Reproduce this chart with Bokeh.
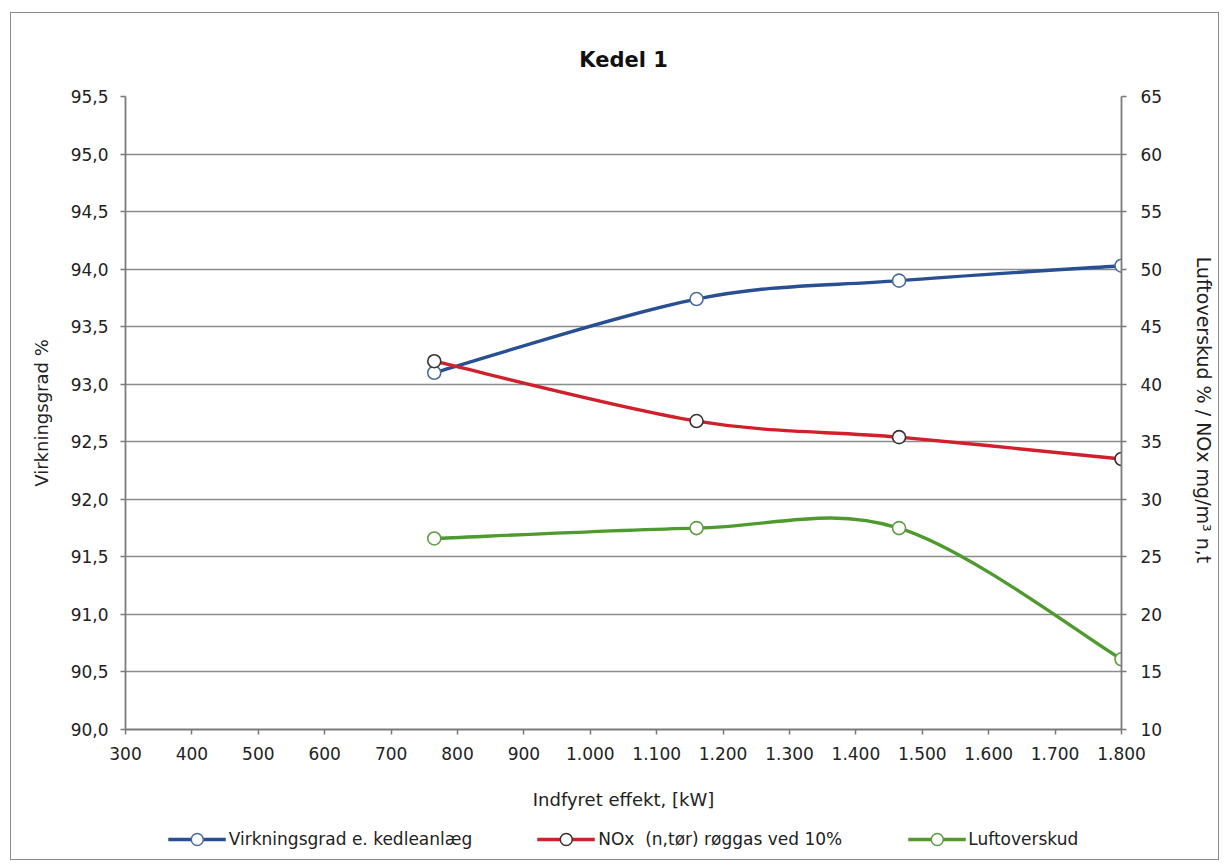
from bokeh.plotting import figure
from bokeh.models import (Range1d, LinearAxis, FixedTicker, Legend, LegendItem,
                          ColumnDataSource)
from bokeh.layouts import column
from bokeh.embed import file_html
from bokeh.resources import INLINE

# ---- data ----
x_kw = [765, 1160, 1465, 1800]
virkningsgrad = [93.10, 93.74, 93.90, 94.03]      # left axis, %
nox = [42.0, 36.8, 35.4, 33.5]                    # right axis, mg/m3 n,t
luftoverskud = [26.6, 27.5, 27.5, 16.1]           # right axis, %

x_ticks = [300, 400, 500, 600, 700, 800, 900, 1000, 1100, 1200, 1300, 1400, 1500, 1600, 1700, 1800]
x_tick_labels = ["300", "400", "500", "600", "700", "800", "900", "1.000", "1.100", "1.200",
                 "1.300", "1.400", "1.500", "1.600", "1.700", "1.800"]
left_ticks = [90.0, 90.5, 91.0, 91.5, 92.0, 92.5, 93.0, 93.5, 94.0, 94.5, 95.0, 95.5]
left_tick_labels = ["90,0", "90,5", "91,0", "91,5", "92,0", "92,5", "93,0", "93,5",
                    "94,0", "94,5", "95,0", "95,5"]
right_ticks = [10, 15, 20, 25, 30, 35, 40, 45, 50, 55, 60, 65]

series_names = ["Virkningsgrad e. kedleanlæg", "NOx  (n,tør) røggas ved 10%", "Luftoverskud"]
line_colors = ["#284f91", "#d0202c", "#4f9a2e"]
marker_lines = ["#4a6e9c", "#3a3030", "#5c9e40"]

FONT = "DejaVu Sans"
GRID = "#8c8c8c"
AX = "#7a7a7a"

p = figure(frame_width=996, frame_height=633,
           min_border_left=114, min_border_right=97, min_border_top=83, min_border_bottom=0,
           x_range=Range1d(300, 1800), y_range=Range1d(90.0, 95.5),
           output_backend="svg", toolbar_location=None, title="Kedel 1")
p.extra_y_ranges = {"right": Range1d(10, 65)}
p.outline_line_color = None
p.background_fill_color = "white"
p.border_fill_color = "white"

p.title.align = "center"
p.title.text_font = FONT
p.title.text_font_size = "21px"
p.title.text_font_style = "bold"
p.title.text_color = "#111111"
p.title.standoff = 50
p.title.offset = 0

# grid
p.xgrid.visible = False
p.ygrid.ticker = FixedTicker(ticks=left_ticks)
p.ygrid.grid_line_color = GRID
p.ygrid.grid_line_width = 1.6

# x axis
xa = p.xaxis[0]
xa.ticker = FixedTicker(ticks=x_ticks)
xa.major_label_overrides = {t: l for t, l in zip(x_ticks, x_tick_labels)}
xa.axis_label = "Indfyret effekt, [kW]"

# left axis
ya = p.yaxis[0]
ya.ticker = FixedTicker(ticks=left_ticks)
ya.major_label_overrides = {t: l for t, l in zip(left_ticks, left_tick_labels)}
ya.axis_label = "Virkningsgrad %"

# right axis
ra = LinearAxis(y_range_name="right", ticker=FixedTicker(ticks=right_ticks),
                axis_label="Luftoverskud % / NOx  mg/m³ n,t")
p.add_layout(ra, "right")

for ax in (xa, ya, ra):
    ax.axis_line_color = AX
    ax.axis_line_width = 1.8
    ax.major_tick_line_color = AX
    ax.major_tick_line_width = 1.5
    ax.major_tick_out = 5
    ax.major_tick_in = 0
    ax.minor_tick_line_color = None
    ax.major_label_text_font = FONT
    ax.major_label_text_font_size = "17px"
    ax.major_label_text_color = "#222222"
    ax.axis_label_text_font = FONT
    ax.axis_label_text_font_size = "18px"
    ax.axis_label_text_font_style = "normal"
    ax.axis_label_text_color = "#222222"
ra.axis_label_text_font_size = "19px"
xa.major_label_standoff = 12
ya.major_label_standoff = 12
ra.major_label_standoff = 14
xa.axis_label_standoff = 26
ya.axis_label_standoff = 16
ra.axis_label_standoff = 28


def smooth_segments(xs, ys):
    """Cubic Bezier segments through the data points (Excel-style smoothing)."""
    n = len(xs)
    pts = list(zip(xs, ys))
    seg = dict(x0=[], y0=[], x1=[], y1=[], cx0=[], cy0=[], cx1=[], cy1=[])
    for i in range(n - 1):
        p0 = pts[max(i - 1, 0)]
        p1 = pts[i]
        p2 = pts[i + 1]
        p3 = pts[min(i + 2, n - 1)]
        seg["x0"].append(p1[0]); seg["y0"].append(p1[1])
        seg["x1"].append(p2[0]); seg["y1"].append(p2[1])
        seg["cx0"].append(p1[0] + (p2[0] - p0[0]) / 6.0)
        seg["cy0"].append(p1[1] + (p2[1] - p0[1]) / 6.0)
        seg["cx1"].append(p2[0] - (p3[0] - p1[0]) / 6.0)
        seg["cy1"].append(p2[1] - (p3[1] - p1[1]) / 6.0)
    return ColumnDataSource(seg)


# legend strip (separate small figure under the chart); its ranges keep the
# sample renderers' data out of view, only the legend is seen
lg = figure(width=1207, height=47, min_border_left=90, min_border_right=0,
            min_border_top=7, min_border_bottom=0,
            x_range=Range1d(0, 1), y_range=Range1d(0, 1),
            x_axis_type=None, y_axis_type=None, output_backend="svg", toolbar_location=None)
lg.outline_line_color = None
lg.xgrid.visible = False
lg.ygrid.visible = False
lg.background_fill_color = "white"
lg.border_fill_color = "white"

series = [(virkningsgrad, "default"), (nox, "right"), (luftoverskud, "right")]
items = []
for (vals, rng), name, lc, mc in zip(series, series_names, line_colors, marker_lines):
    src = smooth_segments(x_kw, vals)
    p.bezier(x0="x0", y0="y0", x1="x1", y1="y1", cx0="cx0", cy0="cy0", cx1="cx1", cy1="cy1",
             source=src, line_color=lc, line_width=3.4, y_range_name=rng)
    p.scatter(x_kw, vals, marker="circle", size=13, fill_color="white",
              line_color=mc, line_width=1.6, y_range_name=rng)
    # legend samples (data lies outside the strip's 0..1 ranges)
    lr = lg.line(x_kw, vals, line_color=lc, line_width=3.4)
    sr = lg.scatter(x_kw, vals, marker="circle", size=11, fill_color="white",
                    line_color=mc, line_width=1.5)
    items.append(LegendItem(label=name, renderers=[lr, sr], index=0))

legend = Legend(items=items, orientation="horizontal", location="center",
                glyph_width=58, glyph_height=30, label_standoff=3, spacing=65,
                label_text_font=FONT, label_text_font_size="17px", label_text_color="#222222",
                border_line_color=None, background_fill_alpha=0, padding=0, margin=0)
lg.add_layout(legend, "center")

layout = column(p, lg, spacing=0, styles={"border": "1.5px solid #8a8a8a"}, margin=(12, 0, 0, 10))

open("out.html", "w").write(file_html(layout, INLINE))
